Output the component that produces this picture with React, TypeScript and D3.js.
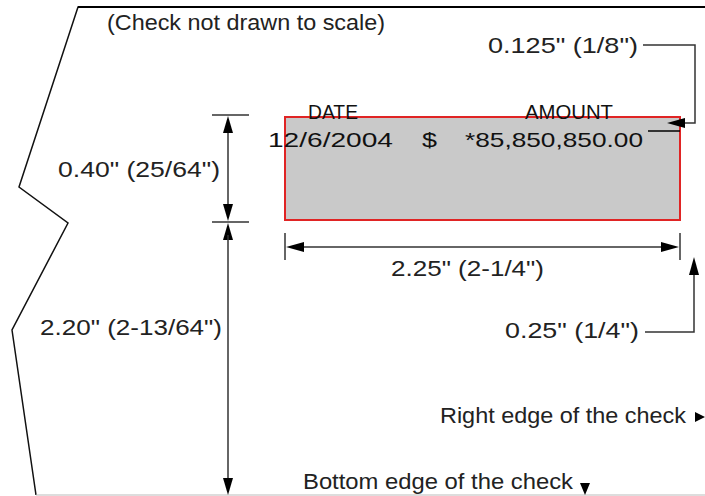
import React from "react";
import * as d3 from "d3";

const noteText = ["(Check not drawn to scale)"];
const fieldHeaders = ["DATE", "AMOUNT"];
const fieldValues = ["12/6/2004", "$", "*85,850,850.00"];
const dimensionLabels = ['0.40" (25/64")', '2.20" (2-13/64")', '2.25" (2-1/4")', '0.125" (1/8")', '0.25" (1/4")'];
const edgeLabels = ["Right edge of the check", "Bottom edge of the check"];

const W = 705;
const H = 496;
const FONT = "'Liberation Sans', Arial, sans-serif";
const INK = "#222";
const LINE = "#333";

type P = [number, number];
const line = d3.line<P>().x((d) => d[0]).y((d) => d[1]);

function arrow(tip: P, dir: "up" | "down" | "left" | "right", len = 17, hw = 5) {
  const [x, y] = tip;
  let pts: P[];
  if (dir === "up") pts = [[x, y], [x - hw, y + len], [x + hw, y + len]];
  else if (dir === "down") pts = [[x, y], [x - hw, y - len], [x + hw, y - len]];
  else if (dir === "left") pts = [[x, y], [x + len, y - hw], [x + len, y + hw]];
  else pts = [[x, y], [x - len, y - hw], [x - len, y + hw]];
  return <path d={line(pts)! + "Z"} fill="#000" stroke="none" />;
}

function Txt({ x, y, w, size = 22, children, fill = INK }: { x: number; y: number; w: number; size?: number; children: string; fill?: string }) {
  return (
    <text x={x} y={y} textLength={w} lengthAdjust="spacingAndGlyphs" fontSize={size} fontFamily={FONT} fill={fill}>
      {children}
    </text>
  );
}

export default function App() {
  const outline: P[] = [[705, 7], [78, 7], [19, 187], [68, 223], [12, 330], [36, 495]];
  const rect = { x: 285, y: 117, w: 395, h: 103 };
  return (
    <div style={{ position: "fixed", left: 0, top: 0 }}>
      <svg width={W} height={H} viewBox={`0 0 ${W} ${H}`} style={{ display: "block", background: "#fff" }}>
        {/* check outline */}
        <path d={line(outline)!} fill="none" stroke="#111" strokeWidth={1.5} />
        <line x1={705} y1={7} x2={78} y2={7} stroke="#000" strokeWidth={2} />
        <line x1={36} y1={495} x2={705} y2={495} stroke="#bbb" strokeWidth={1.2} />

        <Txt x={107} y={30} w={278}>{noteText[0]}</Txt>

        {/* field rectangle */}
        <rect x={rect.x} y={rect.y} width={rect.w} height={rect.h} fill="#c9c9c9" stroke="#e02424" strokeWidth={2} />
        <Txt x={308} y={119} w={50} size={20} fill="#111">{fieldHeaders[0]}</Txt>
        <Txt x={525} y={119} w={88} size={20} fill="#111">{fieldHeaders[1]}</Txt>
        <Txt x={268} y={147} w={125} size={21} fill="#111">{fieldValues[0]}</Txt>
        <Txt x={422} y={147} w={15} size={21} fill="#111">{fieldValues[1]}</Txt>
        <Txt x={465} y={147} w={178} size={21} fill="#111">{fieldValues[2]}</Txt>
        <line x1={648} y1={131} x2={680} y2={131} stroke="#000" strokeWidth={1.5} />

        {/* vertical dimensions */}
        <line x1={212} y1={115} x2={249} y2={115} stroke={LINE} strokeWidth={1.5} />
        <line x1={212} y1={222} x2={249} y2={222} stroke={LINE} strokeWidth={1.5} />
        <line x1={228} y1={125} x2={228} y2={212} stroke={LINE} strokeWidth={1.5} />
        {arrow([228, 116], "up")}
        {arrow([228, 221], "down")}
        {arrow([228, 223], "up")}
        <line x1={228} y1={235} x2={228} y2={485} stroke={LINE} strokeWidth={1.5} />
        {arrow([228, 495], "down")}
        <Txt x={58} y={177} w={162}>{dimensionLabels[0]}</Txt>
        <Txt x={40} y={335} w={182}>{dimensionLabels[1]}</Txt>

        {/* horizontal dimension */}
        <line x1={285} y1={233} x2={285} y2={260} stroke={LINE} strokeWidth={1.5} />
        <line x1={680} y1={233} x2={680} y2={260} stroke={LINE} strokeWidth={1.5} />
        <line x1={295} y1={247} x2={670} y2={247} stroke={LINE} strokeWidth={1.5} />
        {arrow([286, 247], "left", 18)}
        {arrow([679, 247], "right", 18)}
        <Txt x={391} y={276} w={153}>{dimensionLabels[2]}</Txt>

        {/* 0.125 leader */}
        <Txt x={488} y={53} w={150}>{dimensionLabels[3]}</Txt>
        <path d={line([[643, 45], [695, 45], [695, 123], [680, 123]])!} fill="none" stroke={LINE} strokeWidth={1.5} />
        {arrow([667, 123], "left", 18)}

        {/* 0.25 leader */}
        <Txt x={505} y={338} w={134}>{dimensionLabels[4]}</Txt>
        <path d={line([[645, 332], [694, 332], [694, 268]])!} fill="none" stroke={LINE} strokeWidth={1.5} />
        {arrow([694, 257], "up", 18)}

        {/* edge labels */}
        <Txt x={440} y={423} w={246}>{edgeLabels[0]}</Txt>
        {arrow([705, 417], "right", 10, 5)}
        <Txt x={303} y={489} w={270}>{edgeLabels[1]}</Txt>
        {arrow([585, 495], "down", 12, 5)}
      </svg>
    </div>
  );
}
